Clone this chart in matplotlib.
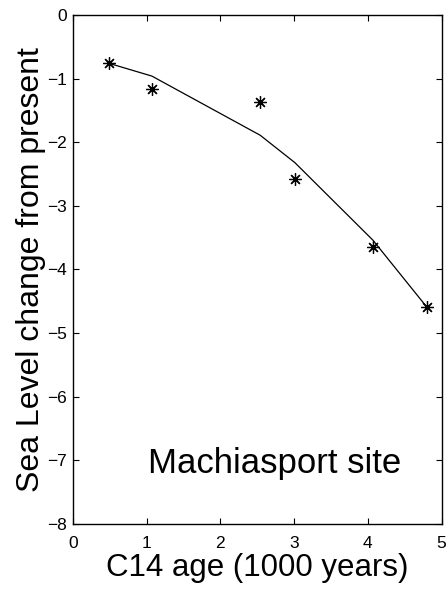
import matplotlib
matplotlib.use('Agg')
import matplotlib.pyplot as plt

plt.rcParams['font.family'] = ['Liberation Sans', 'DejaVu Sans']

# radiocarbon ages (1000 yr) and observed sea level change
age = [0.49, 1.07, 2.54, 3.01, 4.07, 4.80]
sea_level = [-0.76, -1.17, -1.36, -2.57, -3.64, -4.59]
# fitted curve evaluated at the same ages
fit_level = [-0.76, -0.96, -1.89, -2.32, -3.54, -4.59]

site_name = 'Machiasport site'

fig = plt.figure(figsize=(4.48, 5.91), dpi=100)
ax = fig.add_axes([0.163, 0.1134, 0.8225, 0.8612])

ax.plot(age, fit_level, color='black', linewidth=0.9)
ax.plot(age, sea_level, linestyle='none', marker=(8, 2, 0), markersize=9,
        markeredgewidth=0.9, color='black')

ax.set_xlim(0, 5)
ax.set_ylim(-8, 0)
ax.set_xticks(range(0, 6))
ax.set_yticks(range(-8, 1))
ax.set_yticklabels(['\u2212%d' % -v if v < 0 else '0' for v in range(-8, 1)])
ax.tick_params(direction='in', top=True, right=True, labelsize=12.5, length=4,
               width=0.8)
ax.tick_params(axis='x', pad=9)
ax.tick_params(axis='y', pad=4.5)
for s in ax.spines.values():
    s.set_linewidth(1.0)

ax.set_xlabel('C14 age (1000 years)', fontsize=22.5, labelpad=1)
ax.set_ylabel('Sea Level change from present', fontsize=23, labelpad=1)
ax.text(2.73, -7.2, site_name, fontsize=25, ha='center', va='baseline')

fig.savefig('out.png', dpi=100)
